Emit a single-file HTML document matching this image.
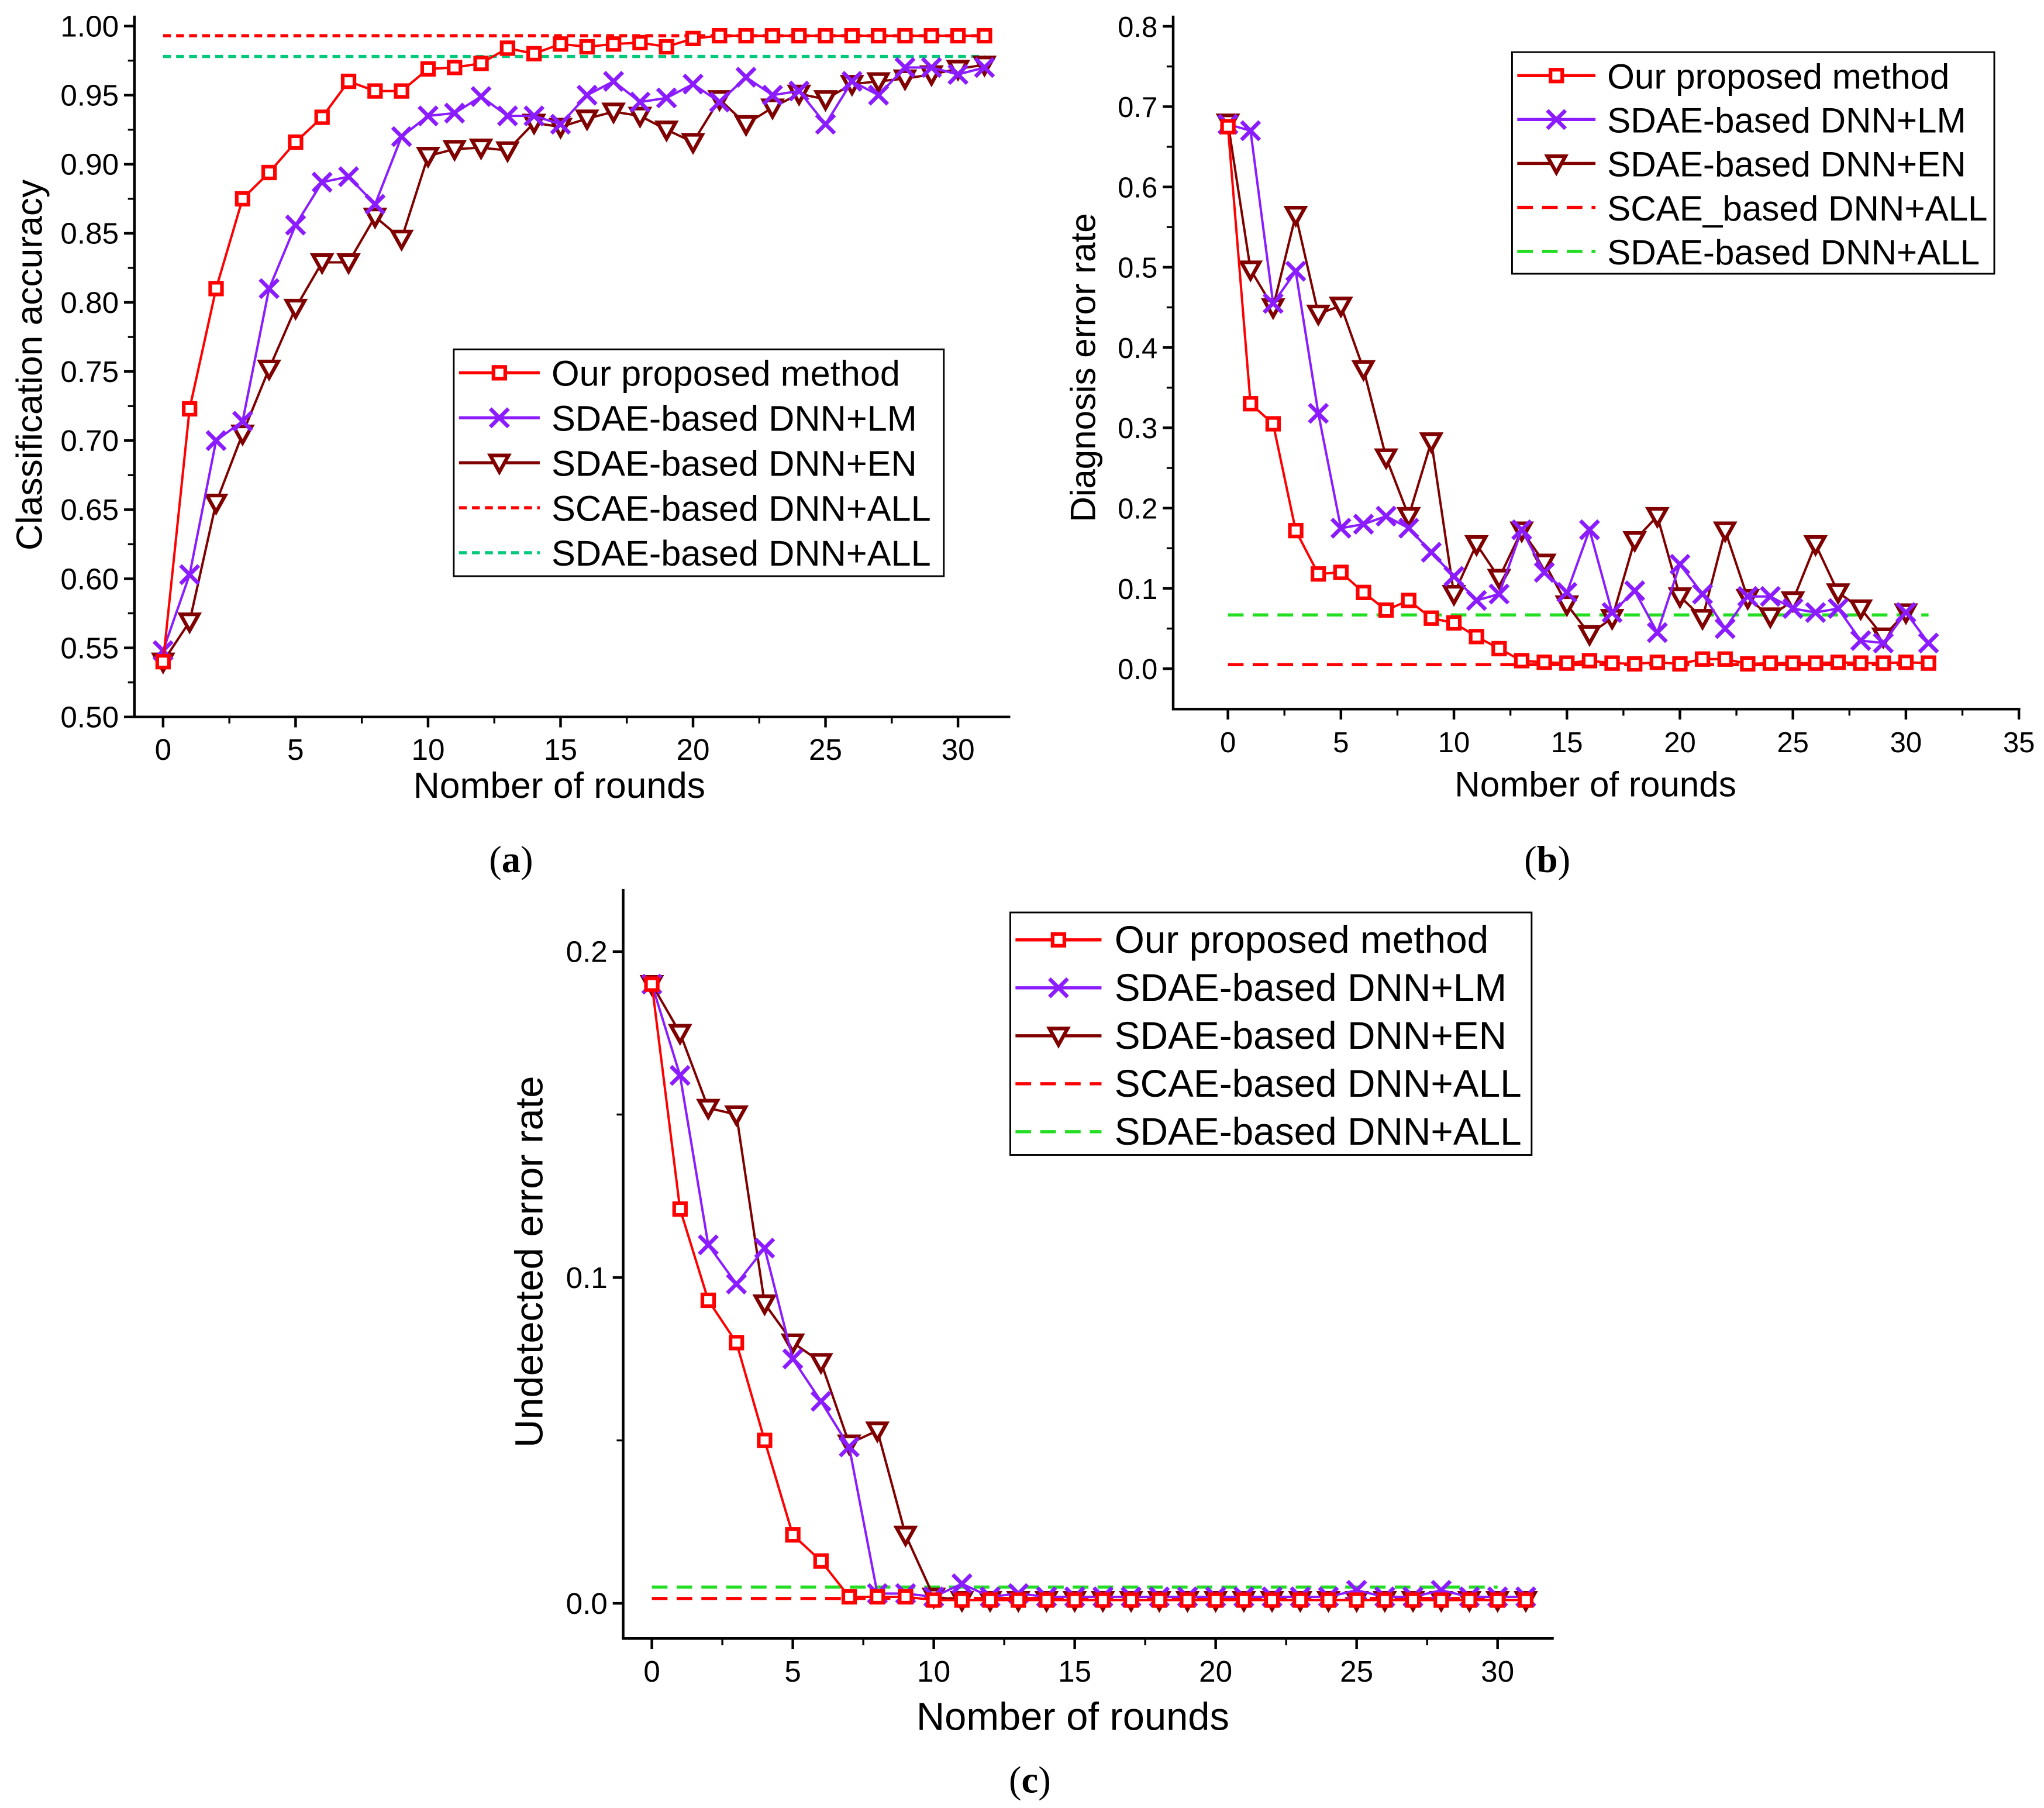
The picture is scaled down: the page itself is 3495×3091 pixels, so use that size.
<!DOCTYPE html>
<html><head><meta charset="utf-8"><style>
html,body{margin:0;padding:0;background:#fff;}
svg{display:block;}
text{font-family:"Liberation Sans",sans-serif;fill:#000;}
.cap{font-family:"Liberation Serif",serif;font-size:29px;}
</style></head><body>
<svg id="fig" width="3495" height="3091" viewBox="0 0 1568 1387">
<g id="pa"></g>
<g id="pb"></g>
<g id="pc"></g>
<text class="cap" x="392" y="669" text-anchor="middle">(<tspan font-weight="bold">a</tspan>)</text>
<text class="cap" x="1187" y="669" text-anchor="middle">(<tspan font-weight="bold">b</tspan>)</text>
<text class="cap" x="790" y="1375" text-anchor="middle">(<tspan font-weight="bold">c</tspan>)</text>
</svg>
<script>
// Panel (a) data
const roundsA = [...Array(32).keys()];
const oursA = [0.54,0.723,0.81,0.875,0.894,0.916,0.934,0.96,0.953,0.953,0.969,0.97,0.973,0.984,0.98,0.987,0.985,0.987,0.988,0.985,0.991,0.993,0.993,0.993,0.993,0.993,0.993,0.993,0.993,0.993,0.993,0.993];
const lmA = [0.548,0.603,0.70,0.714,0.81,0.856,0.887,0.891,0.871,0.92,0.935,0.937,0.949,0.935,0.935,0.929,0.95,0.96,0.945,0.948,0.958,0.945,0.963,0.95,0.953,0.929,0.96,0.95,0.97,0.97,0.965,0.97];
const enA = [0.54,0.569,0.655,0.705,0.752,0.796,0.829,0.829,0.862,0.846,0.906,0.911,0.912,0.91,0.93,0.927,0.933,0.938,0.935,0.925,0.916,0.947,0.929,0.941,0.951,0.947,0.958,0.96,0.962,0.965,0.969,0.972];
const scaeA = 0.993, sdaeA = 0.978;
const yTicksA = [0.50,0.55,0.60,0.65,0.70,0.75,0.80,0.85,0.90,0.95,1.00];
const xTicksA = [0,5,10,15,20,25,30];
// Panel (b) data
const roundsB = [...Array(32).keys()];
const oursB = [0.675,0.33,0.305,0.172,0.118,0.12,0.095,0.073,0.085,0.063,0.057,0.04,0.025,0.01,0.008,0.007,0.01,0.007,0.006,0.008,0.006,0.012,0.012,0.006,0.007,0.007,0.007,0.008,0.007,0.007,0.008,0.007];
const lmB = [0.678,0.67,0.455,0.495,0.318,0.175,0.18,0.19,0.175,0.145,0.115,0.085,0.093,0.173,0.12,0.095,0.173,0.07,0.097,0.045,0.13,0.093,0.05,0.09,0.09,0.075,0.07,0.075,0.035,0.032,0.07,0.032];
const enB = [0.68,0.497,0.45,0.565,0.442,0.452,0.373,0.263,0.19,0.283,0.093,0.155,0.113,0.172,0.132,0.08,0.043,0.063,0.16,0.19,0.09,0.063,0.172,0.088,0.065,0.085,0.155,0.095,0.075,0.04,0.07];
const scaeB = 0.005, sdaeB = 0.067;
const yTicksB = [0.0,0.1,0.2,0.3,0.4,0.5,0.6,0.7,0.8];
const xTicksB = [0,5,10,15,20,25,30,35];
// Panel (c) data
const roundsC = [...Array(32).keys()];
const oursC = [0.19,0.121,0.093,0.08,0.05,0.021,0.013,0.002,0.002,0.002,0.001,0.001,0.001,0.001,0.001,0.001,0.001,0.001,0.001,0.001,0.001,0.001,0.001,0.001,0.001,0.001,0.001,0.001,0.001,0.001,0.001,0.001];
const lmC = [0.19,0.162,0.11,0.098,0.109,0.075,0.062,0.048,0.003,0.003,0.002,0.006,0.002,0.003,0.002,0.002,0.002,0.002,0.002,0.002,0.002,0.002,0.002,0.002,0.002,0.004,0.002,0.002,0.004,0.002,0.002,0.002];
const enC = [0.19,0.175,0.152,0.15,0.092,0.08,0.074,0.049,0.053,0.021,0.002,0.001,0.001,0.001,0.001,0.001,0.001,0.001,0.001,0.001,0.001,0.001,0.001,0.001,0.001,0.001,0.001,0.001,0.001,0.001,0.001,0.001];
const scaeC = 0.0015, sdaeC = 0.005;
const yTicksC = [0.0,0.1,0.2];
const xTicksC = [0,5,10,15,20,25,30];

const NS="http://www.w3.org/2000/svg";
function mk(parent,tag,attrs){const e=document.createElementNS(NS,tag);for(const k in attrs)e.setAttribute(k,attrs[k]);parent.appendChild(e);return e;}
const RED="#ff0000", PUR="#8b1cff", EN="#800000";

function marker(g,type,x,y,color,s){
  if(type==='sq'){const r=mk(g,'rect',{x:x-s,y:y-s,width:2*s,height:2*s,fill:'#fff',stroke:color,'stroke-width':2.8});
    }
  else if(type==='x'){const p=mk(g,'path',{d:`M${x-s} ${y-s}L${x+s} ${y+s}M${x-s} ${y+s}L${x+s} ${y-s}`,stroke:color,'stroke-width':3,fill:'none'});
    }
  else {const p=mk(g,'path',{d:`M${x-s} ${y-s*0.8}L${x+s} ${y-s*0.8}L${x} ${y+s}Z`,stroke:color,'stroke-width':2.8,fill:'#fff'});
    }
}

function panel(id,cfg){
  const g=document.getElementById(id);
  const X=v=>cfg.x0+(v-cfg.xmin)*cfg.xs, Y=v=>cfg.y0-(v-cfg.ymin)*cfg.ys;
  const ax=mk(g,'path',{d:`M${cfg.axL} ${cfg.axT}L${cfg.axL} ${cfg.axB}L${cfg.axR} ${cfg.axB}`,stroke:'#000','stroke-width':2,fill:'none'});
  
  cfg.yt.forEach((v,i)=>{
    mk(g,'line',{x1:cfg.axL-8,x2:cfg.axL,y1:Y(v),y2:Y(v),stroke:'#000','stroke-width':2});
    if(i<cfg.yt.length-1){const m=(v+cfg.yt[i+1])/2;mk(g,'line',{x1:cfg.axL-5,x2:cfg.axL,y1:Y(m),y2:Y(m),stroke:'#000','stroke-width':1.5});}
    const t=mk(g,'text',{x:cfg.axL-12,y:Y(v)+8,'text-anchor':'end','font-size':cfg.kf});t.textContent=v.toFixed(cfg.yd);
    
  });
  cfg.xt.forEach((v,i)=>{
    mk(g,'line',{x1:X(v),x2:X(v),y1:cfg.axB,y2:cfg.axB+8,stroke:'#000','stroke-width':2});
    if(i<cfg.xt.length-1){const m=v+2.5;mk(g,'line',{x1:X(m),x2:X(m),y1:cfg.axB,y2:cfg.axB+5,stroke:'#000','stroke-width':1.5});}
    const t=mk(g,'text',{x:X(v),y:cfg.axB+33,'text-anchor':'middle','font-size':cfg.kf});t.textContent=v;
    
  });
  const xt=mk(g,'text',{x:cfg.xtx,y:cfg.xty,'text-anchor':'middle','font-size':cfg.tf});xt.textContent='Nomber of rounds';
  
  const yt=mk(g,'text',{x:0,y:0,'text-anchor':'middle','font-size':cfg.tf,transform:`translate(${cfg.ytx},${cfg.yty}) rotate(-90)`});yt.textContent=cfg.ytitle;
  
  const d1=mk(g,'line',{x1:X(0),x2:X(cfg.refEnd),y1:Y(cfg.scae),y2:Y(cfg.scae),stroke:RED,'stroke-width':2.4,'stroke-dasharray':cfg.dash});
  
  const d2=mk(g,'line',{x1:X(0),x2:X(cfg.refEnd),y1:Y(cfg.sdae),y2:Y(cfg.sdae),stroke:cfg.green,'stroke-width':2.4,'stroke-dasharray':cfg.dash});
  
  [[cfg.en,EN,'tri','en-series'],[cfg.lm,PUR,'x','lm-series'],[cfg.ours,RED,'sq','ours-series']].forEach(([arr,c,m,nm])=>{
    const sg=mk(g,'g',{});
    const pl=mk(sg,'polyline',{points:arr.map((v,i)=>X(cfg.rounds[i])+','+Y(v)).join(' '),fill:'none',stroke:c,'stroke-width':1.8});
    
    arr.forEach((v,i)=>marker(sg,m,X(cfg.rounds[i]),Y(v),c,m==='sq'?4.5:7));
  });
  const L=cfg.leg;
  const lg=mk(g,'g',{});
  mk(lg,'rect',{x:L.x,y:L.y,width:L.w,height:L.h,fill:'#fff',stroke:'#000','stroke-width':1.3});
  const items=[[RED,'sq',null,'Our proposed method'],[PUR,'x',null,'SDAE-based DNN+LM'],[EN,'tri',null,'SDAE-based DNN+EN'],[RED,null,cfg.dash,cfg.scaeName],[cfg.green,null,cfg.dash,'SDAE-based DNN+ALL']];
  items.forEach(([c,m,d,txt],i)=>{
    const yy=L.y+L.r0+i*L.dy;
    const eg=mk(lg,'g',{});
    const a={x1:L.x+4,x2:L.x+4+L.lw,y1:yy,y2:yy,stroke:c,'stroke-width':2.4};if(d)a['stroke-dasharray']=d;
    mk(eg,'line',a);
    if(m)marker(eg,m,L.x+4+L.lw/2,yy,c,m==='sq'?4.5:7);
    const t=mk(eg,'text',{x:L.x+L.tx,y:yy+10,'font-size':L.fs});t.textContent=txt;
  });
}

panel('pa',{x0:125,xmin:0,xs:20.33,y0:550,ymin:0.5,ys:1060,axL:103,axT:12,axB:550,axR:775,
  yt:yTicksA,xt:xTicksA,yd:2,rounds:roundsA,ours:oursA,lm:lmA,en:enA,scae:scaeA,sdae:sdaeA,refEnd:31,
  green:'#00c97a',dash:'6 4',xtx:429,xty:612,ytx:32,yty:280,tf:28,kf:23,ytitle:'Classification accuracy',scaeName:'SCAE-based DNN+ALL',
  leg:{x:348,y:268,w:376,h:174,r0:18,dy:34.5,lw:62,tx:75,fs:27.5}});
panel('pb',{x0:942,xmin:0,xs:17.34,y0:513,ymin:0,ys:616,axL:900,axT:12,axB:544,axR:1550,
  yt:yTicksB,xt:xTicksB,yd:1,rounds:roundsB,ours:oursB,lm:lmB,en:enB,scae:scaeB,sdae:sdaeB,refEnd:31,
  green:'#22dd22',dash:'12 7',xtx:1224,xty:611,ytx:840,yty:282,tf:27,kf:22,ytitle:'Diagnosis error rate',scaeName:'SCAE_based DNN+ALL',
  leg:{x:1160,y:40,w:370,h:170,r0:18,dy:33.7,lw:60,tx:73,fs:27}});
panel('pc',{x0:500,xmin:0,xs:21.63,y0:1230,ymin:0,ys:2500,axL:478,axT:682,axB:1257,axR:1192,
  yt:yTicksC,xt:xTicksC,yd:1,rounds:roundsC,ours:oursC,lm:lmC,en:enC,scae:scaeC,sdae:sdaeC,refEnd:30,
  green:'#22dd22',dash:'12 7',xtx:823,xty:1327,ytx:416,yty:968,tf:30,kf:23,ytitle:'Undetected error rate',scaeName:'SCAE-based DNN+ALL',
  leg:{x:775,y:700,w:400,h:186,r0:21,dy:36.8,lw:66,tx:80,fs:29.5}});
</script>
</body></html>
